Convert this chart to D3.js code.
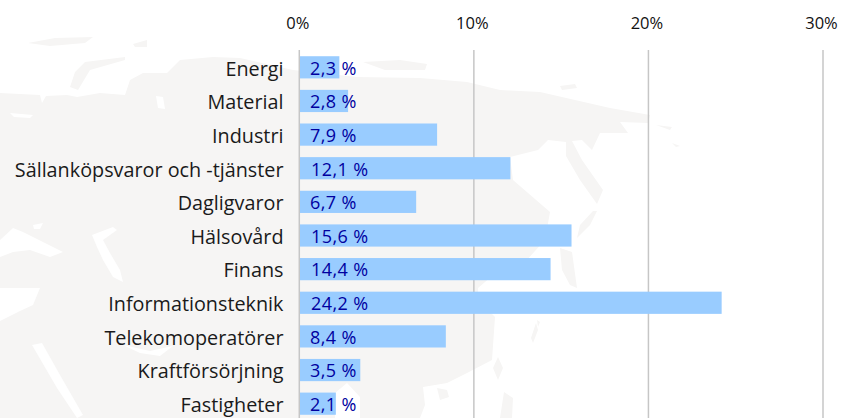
<!DOCTYPE html>
<html>
<head>
<meta charset="utf-8">
<script src="https://cdn.jsdelivr.net/npm/d3@7"></script>
<style>
  html, body { margin: 0; padding: 0; background: #fff; overflow: hidden; }
  text { font-family: "Open Sans", sans-serif; }
</style>
</head>
<body>
<div id="chart"></div>
<script>
const categories = ["Energi", "Material", "Industri", "Sällanköpsvaror och -tjänster", "Dagligvaror",
  "Hälsovård", "Finans", "Informationsteknik", "Telekomoperatörer", "Kraftförsörjning", "Fastigheter"];
const values = [2.3, 2.8, 7.9, 12.1, 6.7, 15.6, 14.4, 24.2, 8.4, 3.5, 2.1];
const ticks = [0, 10, 20, 30];

// faint world map behind the chart, decoration only
const land = "M0,93 L40,95 L42,103 L46,96 L67,95 L77,97 L100,93 L125,95 L130,80 L143,73 L167,73 L180,60 L213,57 L240,58 L293,70 L357,77 L420,78 L467,82 L500,90 L540,92 L610,108 L650,115 L648,123 L620,122 L628,133 L600,133 L592,150 L582,140 L572,141 L582,160 L603,190 L597,204 L580,180 L566,156 L566,142 L548,140 L538,150 L510,157 L513,180 L550,212 L545,240 L525,262 L505,265 L478,288 L478,300 L495,317 L492,360 L467,373 L447,383 L423,387 L425,405 L420,418 L360,418 L360,397 L347,383 L335,393 L335,418 L0,418 Z";
const water = [
  "M0,240 L13,228 L23,232 L43,242 L63,252 L50,257 L30,250 L13,252 L0,257 Z",
  "M33,225 L43,223 L40,229 L34,229 Z",
  "M92,235 L113,227 L117,230 L103,240 L110,253 L120,270 L123,282 L113,277 L103,260 L97,247 Z",
  "M0,288 L40,288 L33,305 L20,311 L0,321 Z",
  "M32,345 L42,343 L60,375 L83,415 L77,418 L57,388 Z",
  "M123,345 L150,351 L173,346 L160,356 L140,353 Z",
  "M10,113 L33,115 L30,118 L14,117 Z",
  "M156,96 L163,97 L165,109 L158,108 Z"
];
const islands = [
  "M70,87 L75,72 L85,62 L125,57 L125,60 L90,70 L84,80 L78,90 Z",
  "M28,43 L55,38 L93,37 L85,43 L50,46 Z",
  "M133,44 L147,40 L147,47 L135,47 Z",
  "M363,62 L400,60 L427,64 L425,70 L385,70 Z",
  "M560,86 L575,84 L577,88 L562,90 Z",
  "M656,125 L672,127 L670,130 Z",
  "M672,143 L680,146 L676,147 Z",
  "M577,238 L590,225 L597,211 L593,211 L580,225 Z",
  "M560,248 L572,252 L577,288 L570,285 L562,270 Z",
  "M533,343 L538,330 L536,323 L531,338 Z",
  "M498,380 L493,368 L498,357 L503,368 Z",
  "M537,320 L540,322 L538,327 Z",
  "M500,418 L504,392 L513,398 L512,418 Z",
  "M437,388 L447,390 L449,397 L440,400 Z"
];

const width = 842, height = 418;

const svg = d3.select("#chart").append("svg")
  .attr("width", width)
  .attr("height", height);

const x = d3.scaleLinear().domain([0, 30]).range([299.3, 823]);
const y = d3.scaleBand().domain(categories).range([50.5, 420.5]).paddingInner(0.34).paddingOuter(0.17);

const blur = svg.append("defs").append("filter").attr("id", "soft");
blur.append("feGaussianBlur").attr("stdDeviation", 0.7);

// background map
const map = svg.append("g").attr("filter", "url(#soft)");
map.append("path").attr("d", land).attr("fill", "#f6f5f4");
map.selectAll(".island").data(islands).enter().append("path")
  .attr("class", "island").attr("d", d => d).attr("fill", "#f6f5f4");
map.selectAll(".water").data(water).enter().append("path")
  .attr("class", "water").attr("d", d => d).attr("fill", "#ffffff");

// grid lines
svg.selectAll(".grid").data(ticks).enter().append("line")
  .attr("class", "grid")
  .attr("x1", d => x(d)).attr("x2", d => x(d))
  .attr("y1", 50).attr("y2", height)
  .attr("stroke", "#c6c6c6")
  .attr("stroke-width", 1.5);

// bars
svg.selectAll(".bar").data(values).enter().append("rect")
  .attr("class", "bar")
  .attr("x", x(0) + 0.7)
  .attr("y", (d, i) => y(categories[i]))
  .attr("width", d => x(d) - x(0) - 0.8)
  .attr("height", y.bandwidth())
  .attr("fill", "#99ccff");

// top axis
const xAxis = d3.axisTop(x).tickValues(ticks).tickFormat(d => d + "%").tickSize(0).tickPadding(21);
const gx = svg.append("g").attr("transform", "translate(0,50)").call(xAxis);
gx.select(".domain").remove();
gx.selectAll("text").attr("font-size", 16.5).attr("fill", "#111").attr("dx", -2);

// category labels
const yAxis = d3.axisLeft(y).tickSize(0).tickPadding(16);
const gy = svg.append("g").attr("transform", "translate(299.5,2)").call(yAxis);
gy.select(".domain").remove();
gy.selectAll("text").attr("font-size", 19.8).attr("fill", "#1a1a1a");

// value labels
svg.selectAll(".value").data(values).enter().append("text")
  .attr("class", "value")
  .attr("x", d => d >= 10 ? 311 : 310)
  .attr("y", (d, i) => y(categories[i]) + y.bandwidth() / 2 + 1)
  .attr("dy", "0.35em")
  .attr("font-size", 18)
  .attr("letter-spacing", 0.4)
  .attr("fill", "#0000a0")
  .text(d => d.toFixed(1).replace(".", ",") + " %");
</script>
</body>
</html>
